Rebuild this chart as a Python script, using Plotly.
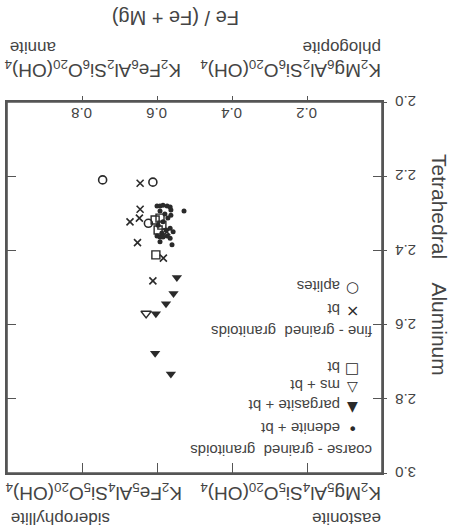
import plotly.graph_objects as go

# ---- data (Fe/(Fe+Mg), tetrahedral Al) ----
edenite_x = [0.600, 0.592, 0.584, 0.573, 0.565, 0.592, 0.563, 0.563, 0.571, 0.584, 0.565, 0.576,
             0.557, 0.600, 0.592, 0.584, 0.573, 0.565, 0.592, 0.560, 0.528, 0.579, 0.597, 0.587]
edenite_y = [2.280, 2.280, 2.278, 2.280, 2.283, 2.294, 2.291, 2.305, 2.313, 2.323, 2.340, 2.345,
             2.350, 2.361, 2.364, 2.364, 2.361, 2.367, 2.377, 2.385, 2.294, 2.302, 2.332, 2.353]
pargasite_x = [0.547, 0.556, 0.576, 0.603, 0.605, 0.563]
pargasite_y = [2.473, 2.516, 2.544, 2.571, 2.677, 2.733]
msbt_x = [0.629]
msbt_y = [2.570]
coarse_bt_x = [0.605, 0.592, 0.597, 0.603, 0.587]
coarse_bt_y = [2.318, 2.313, 2.345, 2.412, 2.332]
fine_bt_x = [0.645, 0.645, 0.647, 0.672, 0.652, 0.583, 0.611, 0.574]
fine_bt_y = [2.219, 2.289, 2.313, 2.323, 2.379, 2.421, 2.482, 2.350]
aplite_x = [0.745, 0.611, 0.623]
aplite_y = [2.210, 2.216, 2.327]

x_ticks = [0.2, 0.4, 0.6, 0.8]
x_ticklabels = ["0.2", "0.4", "0.6", "0.8"]
y_ticks = [2.0, 2.2, 2.4, 2.6, 2.8, 3.0]
y_ticklabels = ["2.0", "2.2", "2.4", "2.6", "2.8", "3.0"]

INK = "#2a2a2a"
TXT = "#444444"
LINE = "#555555"
FONT = "Liberation Sans"

fig = go.Figure()

def add(xs, ys, symbol, size, name, lw=1.2):
    fig.add_trace(go.Scatter(
        x=xs, y=ys, mode="markers", name=name, showlegend=False,
        marker=dict(symbol=symbol, size=size, color=INK,
                    line=dict(color=INK, width=lw))))

add(edenite_x, edenite_y, "circle", 5, "edenite + bt", 0)
add(coarse_bt_x, coarse_bt_y, "square-open", 8, "bt (coarse)", 1.4)
add(msbt_x, msbt_y, "triangle-down-open", 9, "ms + bt", 1.4)
add(pargasite_x, pargasite_y, "triangle-down", 9, "pargasite + bt", 0)
add(fine_bt_x, fine_bt_y, "x-thin", 7, "bt (fine)", 1.6)
add(aplite_x, aplite_y, "circle-open", 8, "aplites", 1.6)

# overlay axes for the outer tick marks
fig.add_trace(go.Scatter(x=[None], y=[None], xaxis="x2", yaxis="y2", showlegend=False))

fig.update_layout(
    width=461, height=530,
    margin=dict(l=7, r=79, t=102, b=57),
    paper_bgcolor="white", plot_bgcolor="white",
    font=dict(family=FONT, color=TXT),
    xaxis=dict(range=[1, 0], tickvals=x_ticks, ticks="inside", ticklen=10, tickwidth=1.4,
               tickcolor=LINE, showticklabels=False, showgrid=False, zeroline=False,
               showline=True, linecolor=LINE, linewidth=1.6, mirror=True),
    yaxis=dict(range=[3.0, 2.0], tickvals=y_ticks, ticks="inside", ticklen=9, tickwidth=1.4,
               tickcolor=LINE, showticklabels=False, showgrid=False, zeroline=False,
               showline=True, linecolor=LINE, linewidth=1.6, mirror="ticks"),
    xaxis2=dict(range=[1, 0], overlaying="x", side="top", tickvals=x_ticks,
                ticks="outside", ticklen=5, tickwidth=1.4, tickcolor=LINE, showticklabels=False,
                showgrid=False, zeroline=False, showline=False),
    yaxis2=dict(range=[3.0, 2.0], overlaying="y", side="right", tickvals=y_ticks,
                ticks="outside", ticklen=4, tickwidth=1.4, tickcolor=LINE, showticklabels=False,
                showgrid=False, zeroline=False, showline=False),
)

# frame
fig.add_shape(type="rect", xref="paper", yref="paper", x0=0, x1=1, y0=0, y1=1,
              line=dict(color=LINE, width=1.6), fillcolor="rgba(0,0,0,0)", layer="above")

def px2paper(px, py):
    return (px - 7) / 375.0, (473 - py) / 371.0

def ann(text, px, py, xanchor="center", size=14, angle=180, color=TXT, family=FONT):
    x, y = px2paper(px, py)
    fig.add_annotation(text=text, x=x, y=y, xref="paper", yref="paper",
                       xanchor=xanchor, yanchor="middle", showarrow=False,
                       textangle=angle, font=dict(size=size, color=color, family=family))

# tick labels (rotated, placed through the axis scales)
for v, t in zip(x_ticks, x_ticklabels):
    fig.add_annotation(text=t, x=v, y=(473 - 114) / 371.0, xref="x", yref="paper",
                       xanchor="center", yanchor="middle", showarrow=False, textangle=180,
                       font=dict(size=15, color=TXT, family=FONT))
for v, t in zip(y_ticks, y_ticklabels):
    fig.add_annotation(text=t, x=(405 - 7) / 375.0, y=v, xref="paper", yref="y",
                       xanchor="center", yanchor="middle", showarrow=False, textangle=180,
                       font=dict(size=15, color=TXT, family=FONT))

# titles
ann("Fe / (Fe + Mg)", 176, 18, "center", 20)
ann("Tetrahedral&nbsp;&nbsp;&nbsp;&nbsp;Aluminum", 440, 265, "center", 21, 90)

# end-member labels
ann("phlogopite", 383, 47, "right", 17)
ann("K<sub>2</sub>Mg<sub>6</sub>Al<sub>2</sub>Si<sub>6</sub>O<sub>20</sub>(OH)<sub>4</sub>", 383, 69, "right", 19)
ann("annite", 8, 47, "left", 17)
ann("K<sub>2</sub>Fe<sub>6</sub>Al<sub>2</sub>Si<sub>6</sub>O<sub>20</sub>(OH)<sub>4</sub>", 3, 69, "left", 19)
ann("K<sub>2</sub>Mg<sub>5</sub>Al<sub>4</sub>Si<sub>5</sub>O<sub>20</sub>(OH)<sub>4</sub>", 383, 492, "right", 19)
ann("eastonite", 383, 519, "right", 17)
ann("K<sub>2</sub>Fe<sub>5</sub>Al<sub>4</sub>Si<sub>5</sub>O<sub>20</sub>(OH)<sub>4</sub>", 4, 492, "left", 19)
ann("siderophyllite", 9, 519, "left", 17)

# legend (rotated like the rest of the sheet)
legend_rows = [
    ("aplites", "○", 287, 15),
    ("bt", "×", 310, 16),
    ("bt", "□", 368, 15),
    ("ms + bt", "▽", 386, 14),
    ("pargasite + bt", "▼", 406, 14),
    ("edenite + bt", "•", 429, 16),
]
for label, glyph, py, gsize in legend_rows:
    ann(label, 342, py, "right", 15)
    ann(glyph, 352, py, "center", gsize, 0, INK, "DejaVu Sans")
ann("fine - grained&nbsp;&nbsp;granitoids", 374, 332, "right", 15)
ann("coarse - grained&nbsp;&nbsp;granitoids", 374, 451, "right", 15)

fig.write_html("out.html")
